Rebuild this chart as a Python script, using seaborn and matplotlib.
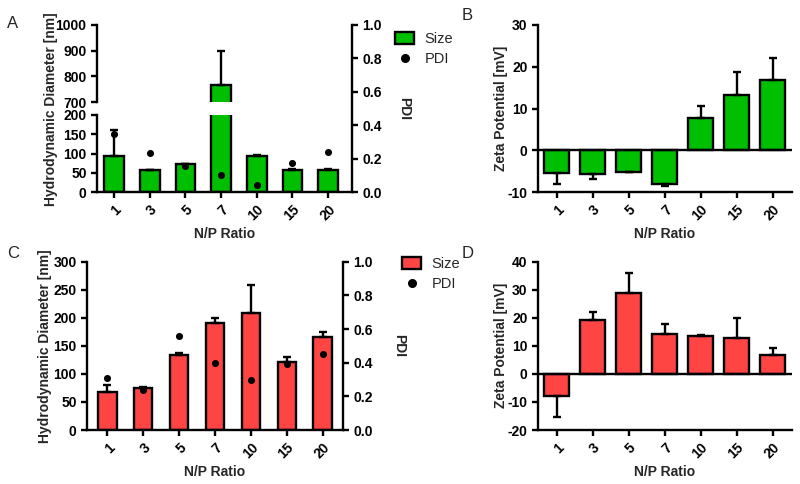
import matplotlib

matplotlib.use("Agg")
import matplotlib.pyplot as plt
import numpy as np
import pandas as pd
import seaborn as sns
from matplotlib.lines import Line2D
from matplotlib.patches import Patch

# --------------------------------------------------------------------------- #
# Data
# --------------------------------------------------------------------------- #
NP_RATIO = ["1", "3", "5", "7", "10", "15", "20"]

# A / B: green formulation
SIZE_A = [93, 57, 72, 765, 93, 58, 58]
SIZE_A_ERR = [67, 1, 1, 135, 2, 1, 1]
PDI_A = [0.347, 0.233, 0.153, 0.103, 0.042, 0.173, 0.239]
ZETA_B = [-5.5, -5.6, -5.1, -8.2, 7.8, 13.3, 16.9]
ZETA_B_ERR = [2.7, 1.4, 0.2, 0.3, 2.8, 5.4, 5.2]

# C / D: red formulation
SIZE_C = [67, 75, 134, 191, 209, 122, 166]
SIZE_C_ERR = [13, 1, 4, 8, 49, 9, 8]
PDI_C = [0.311, 0.236, 0.560, 0.396, 0.297, 0.392, 0.450]
ZETA_D = [-7.8, 19.2, 29.0, 14.3, 13.5, 12.9, 6.8]
ZETA_D_ERR = [7.4, 2.9, 6.9, 3.4, 0.4, 7.2, 2.3]

GREEN = "#00bf00"
RED = "#ff4444"
LW = 1.7
W, H = 800, 484

sns.set_style("ticks")
plt.rcParams["font.family"] = ["Liberation Sans", "DejaVu Sans"]
plt.rcParams.update({
    "font.size": 10, "font.weight": "bold", "axes.labelweight": "bold",
    "axes.linewidth": LW, "xtick.major.width": LW, "ytick.major.width": LW,
    "xtick.major.size": 4, "ytick.major.size": 4,
    "xtick.color": "black", "ytick.color": "black", "axes.edgecolor": "black",
    "axes.unicode_minus": False,
})


def rect(x0, y0, x1, y1):
    """Pixel box (top-left origin) -> figure-fraction rect."""
    return [x0 / W, 1 - y1 / H, (x1 - x0) / W, (y1 - y0) / H]


def draw_bars(ax, values, errs, color, width):
    df = pd.DataFrame({"np": NP_RATIO, "val": values})
    sns.barplot(data=df, x="np", y="val", color=color, saturation=1,
                edgecolor="black", linewidth=LW, width=width, ax=ax)
    vals, err = np.asarray(values, float), np.asarray(errs, float)
    yerr = [np.where(vals < 0, err, 0), np.where(vals >= 0, err, 0)]
    ax.errorbar(np.arange(len(vals)), vals, yerr=yerr, fmt="none", ecolor="black",
                elinewidth=LW, capsize=3, capthick=LW)
    ax.set(xlabel="", ylabel="")


def np_axis(ax, labelpad=3):
    ax.set_xticks(range(len(NP_RATIO)))
    ax.set_xticklabels(NP_RATIO, rotation=45, ha="right", rotation_mode="anchor")
    ax.set_xlabel("N/P Ratio", labelpad=labelpad)


def pdi_axes(box, xlim, pdi, labelpad):
    ax = fig.add_axes(box)
    ax.patch.set_visible(False)
    sns.scatterplot(x=np.arange(len(pdi)), y=pdi, color="black", s=26,
                    linewidth=0, ax=ax, zorder=5)
    ax.set_xlim(*xlim)
    ax.set_ylim(0, 1)
    ax.set_yticks(np.arange(0, 1.01, 0.2))
    ax.set_yticklabels([f"{v:.1f}" for v in np.arange(0, 1.01, 0.2)])
    ax.yaxis.tick_right()
    ax.yaxis.set_label_position("right")
    ax.set_ylabel("PDI", rotation=270, labelpad=labelpad)
    ax.set_xticks([])
    for side in ("left", "top", "bottom"):
        ax.spines[side].set_visible(False)
    return ax


def legend(x, y, color):
    handles = [Patch(facecolor=color, edgecolor="black", linewidth=LW, label="Size"),
               Line2D([], [], marker="o", color="black", linestyle="none",
                      markersize=5.5, label="PDI")]
    fig.legend(handles=handles, loc="upper left", bbox_to_anchor=(x, y), frameon=False,
               prop={"weight": "normal", "size": 10.5}, handlelength=1.3,
               handleheight=0.9, handletextpad=0.7, labelspacing=0.4, borderpad=0)


fig = plt.figure(figsize=(W / 100, H / 100), dpi=100)

# --------------------------------------------------------------------------- #
# A: broken size axis + PDI
# --------------------------------------------------------------------------- #
xlim_a = (-0.48, 6.67)
low = fig.add_axes(rect(97, 115, 352, 192))
up = fig.add_axes(rect(97, 25, 352, 102))
for ax in (low, up):
    draw_bars(ax, SIZE_A, SIZE_A_ERR, GREEN, 0.55)
    ax.set_xlim(*xlim_a)
low.set_ylim(0, 200)
low.set_yticks([0, 50, 100, 150, 200])
up.set_ylim(700, 1000)
up.set_yticks([700, 800, 900, 1000])
up.set_xticks([])
for side in ("top", "right", "bottom"):
    up.spines[side].set_visible(False)
for side in ("top", "right"):
    low.spines[side].set_visible(False)
np_axis(low)
pdi_axes(rect(97, 25, 352, 192), xlim_a, PDI_A, 21)
fig.text(51 / W, 1 - 109 / H, "Hydrodynamic Diameter [nm]", rotation=90,
         ha="center", va="center", fontweight="bold")
legend(388 / W, 1 - 25 / H, GREEN)

# --------------------------------------------------------------------------- #
# B: zeta potential
# --------------------------------------------------------------------------- #
axb = fig.add_axes(rect(538, 25, 792, 192))
draw_bars(axb, ZETA_B, ZETA_B_ERR, GREEN, 0.69)
axb.set_xlim(-0.52, 6.54)
axb.set_ylim(-10, 30)
axb.set_yticks([-10, 0, 10, 20, 30])
axb.axhline(0, color="black", linewidth=LW, zorder=3)
sns.despine(ax=axb)
np_axis(axb)
axb.set_ylabel("Zeta Potential [mV]", labelpad=0)

# --------------------------------------------------------------------------- #
# C: size + PDI
# --------------------------------------------------------------------------- #
xlim_c = (-0.57, 6.57)
axc = fig.add_axes(rect(87, 261.7, 343, 430))
draw_bars(axc, SIZE_C, SIZE_C_ERR, RED, 0.51)
axc.set_xlim(*xlim_c)
axc.set_ylim(0, 300)
axc.set_yticks(range(0, 301, 50))
sns.despine(ax=axc)
np_axis(axc)
axc.set_ylabel("Hydrodynamic Diameter [nm]", labelpad=1)
pdi_axes(rect(87, 261.7, 343, 430), xlim_c, PDI_C, 24)
legend(395 / W, 1 - 250 / H, RED)

# --------------------------------------------------------------------------- #
# D: zeta potential
# --------------------------------------------------------------------------- #
axd = fig.add_axes(rect(538, 261.7, 792, 430))
draw_bars(axd, ZETA_D, ZETA_D_ERR, RED, 0.69)
axd.set_xlim(-0.52, 6.54)
axd.set_ylim(-20, 40)
axd.set_yticks(range(-20, 41, 10))
axd.axhline(0, color="black", linewidth=LW, zorder=3)
sns.despine(ax=axd)
np_axis(axd)
axd.set_ylabel("Zeta Potential [mV]", labelpad=0)

for letter, x, y in (("A", 13, 24), ("B", 467, 16), ("C", 13, 253), ("D", 468, 253)):
    fig.text(x / W, 1 - y / H, letter, ha="center", va="center",
             fontsize=12, fontweight="normal")

fig.savefig("out.png", dpi=100)
